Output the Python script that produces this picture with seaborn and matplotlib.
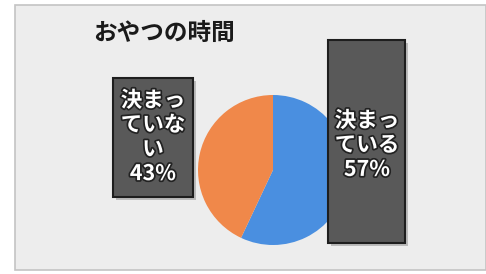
import matplotlib
matplotlib.use("Agg")
import matplotlib.pyplot as plt
import matplotlib.patheffects as pe
from matplotlib.patches import Rectangle
import seaborn as sns

# data
categories = ["決まっている", "決まっていない"]
shares = [57, 43]
box_labels = ["決まっ\nている\n57%", "決まっ\nていな\nい\n43%"]
title = "おやつの時間"

sns.set_theme(style="white")
plt.rcParams["font.family"] = ["Noto Sans CJK JP", "DejaVu Sans"]

colors = ["#4a8fe0", "#f0884a"]

W, H = 486, 274
fig = plt.figure(figsize=(W / 100, H / 100), dpi=100, facecolor="white")
ax = fig.add_axes([0, 0, 1, 1])

# chart area
ax.add_patch(Rectangle((15, 4), 471, 265, facecolor="#ededed",
                       edgecolor="#c4c4c4", lw=1.2, zorder=0))

# pie (blue starts at 12 o'clock, clockwise)
ax.pie(shares, colors=colors, startangle=90, counterclock=False,
       center=(273, 104), radius=75,
       wedgeprops=dict(linewidth=0, zorder=1))

# label boxes
def label_box(x0, y0, w, h, text, tx, ty):
    ax.add_patch(Rectangle((x0 + 3, y0 - 3), w, h, facecolor="#9a9a9a",
                           alpha=0.6, lw=0, zorder=2))
    ax.add_patch(Rectangle((x0, y0), w, h, facecolor="#595959",
                           edgecolor="#1e1e1e", lw=1.5, zorder=3))
    t = ax.text(tx, ty, text, ha="center", va="center", color="white",
                fontsize=15.5, fontweight="bold", linespacing=1.2, zorder=4)
    t.set_path_effects([pe.withStroke(linewidth=2.5, foreground="#222222")])

label_box(328, 31, 77, 203, box_labels[0], 367, 129)
label_box(113, 77, 80, 119, box_labels[1], 153, 137)

ax.text(93, 241, title, ha="left", va="center", fontsize=17,
        fontweight="bold", color="#1a1a1a")

ax.set_xlim(0, W)
ax.set_ylim(0, H)
ax.set_aspect("auto")
ax.axis("off")

fig.savefig("out.png", dpi=100, facecolor="white")
